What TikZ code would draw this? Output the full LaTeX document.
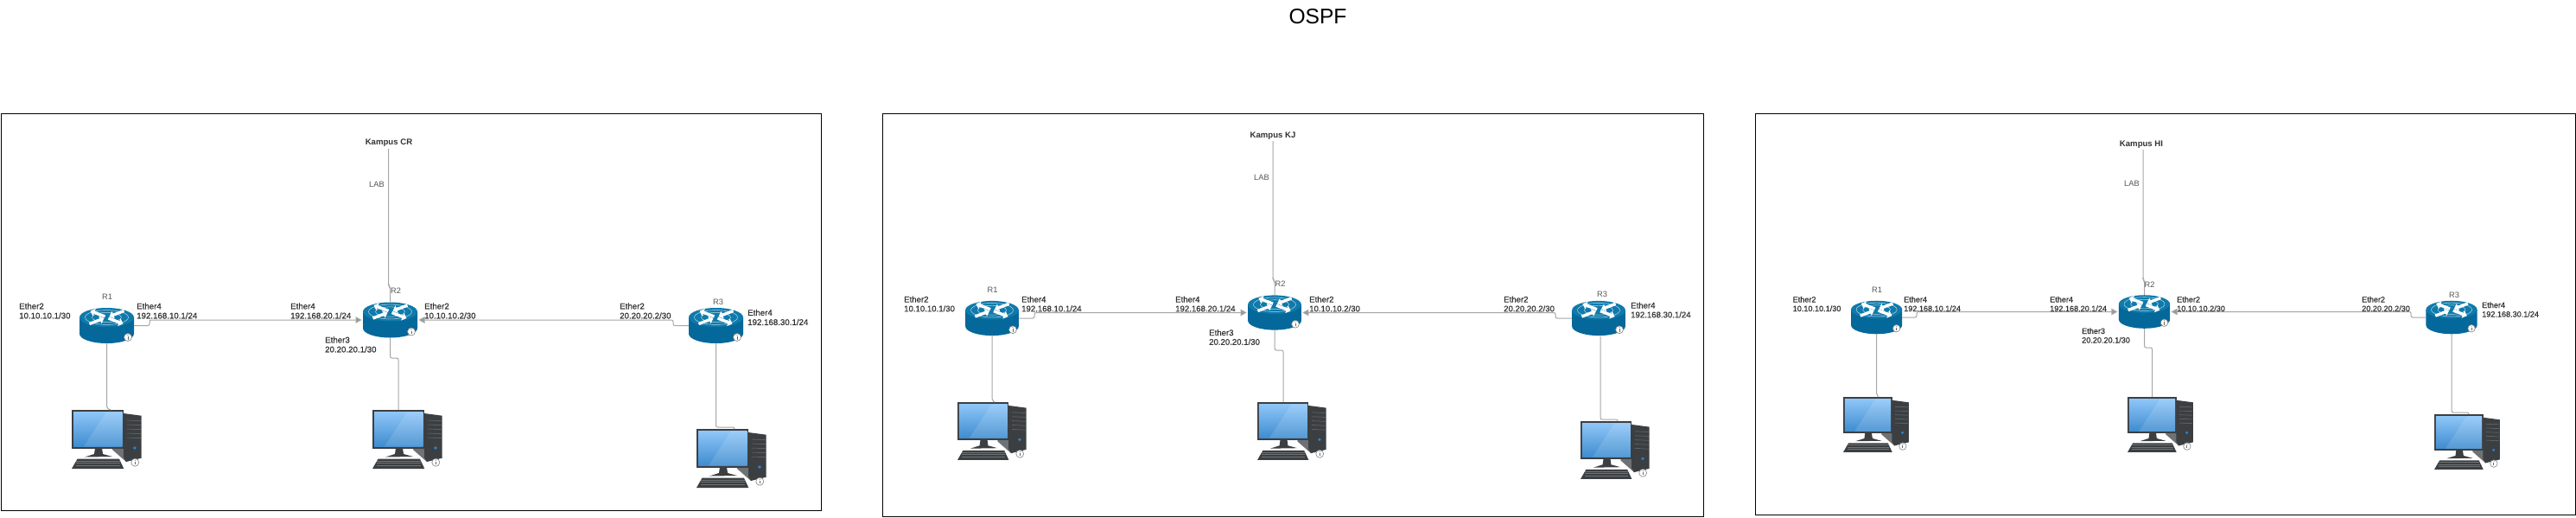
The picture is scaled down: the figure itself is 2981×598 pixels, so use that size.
\documentclass[tikz,border=0pt]{standalone}
\usepackage{fontspec}
\setmainfont{Liberation Sans}
\newfontface\medfont{Liberation Sans}[FakeBold=0.6]
\usetikzlibrary{arrows.meta,calc}
\definecolor{linkgray}{HTML}{A6A6A6}
\definecolor{arrowgray}{HTML}{999999}
\definecolor{txtdark}{HTML}{333333}
\definecolor{txtgray}{HTML}{555555}
\definecolor{rbody}{HTML}{04689A}
\definecolor{rtop}{HTML}{0F7AAB}
\definecolor{pcdark}{HTML}{3C3F42}
\definecolor{pcmid}{HTML}{6E7275}
\definecolor{scrtop}{HTML}{8EC6F8}
\definecolor{scrbot}{HTML}{3F8CCF}
\tikzset{
  panelbox/.style={draw=black,line width=1.4pt,fill=white},
  link/.style={draw=linkgray,line width=1pt,rounded corners=2pt},
  arrowlink/.style={link,-{Triangle[length=7pt,width=7.5pt,fill=arrowgray]},shorten >=1.5pt},
  devbox/.style={draw=none,inner sep=0pt,outer sep=0pt},
  etha/.style={text=txtdark,font=\fontsize{9.7}{11}\medfont,align=left,anchor=west,inner sep=0pt},
  ethb/.style={text=txtdark,font=\fontsize{9.6}{10.7}\medfont,align=left,anchor=west,inner sep=0pt},
  ethc/.style={text=txtdark,font=\fontsize{9.1}{10.5}\medfont,align=left,anchor=west,inner sep=0pt},
  rname/.style={text=txtgray,font=\fontsize{9.3}{11}\selectfont,inner sep=0pt},
  campus/.style={text=txtdark,font=\fontsize{9.6}{11}\selectfont\bfseries,inner sep=1.5pt},
  titletext/.style={text=black,font=\fontsize{24.6}{30}\selectfont,inner sep=0pt},
}
% info badge
\newcommand\infomark[2]{%
  \fill[white] (#1,#2) circle (4.5);
  \draw[gray,line width=0.6pt] (#1,#2) circle (4.5);
  \draw[gray!80!black,line width=0.9pt] (#1,#2-1) -- (#1,#2+2.5);
  \fill[gray!80!black] (#1,#2-2.6) circle (0.6);
}
% router: name, centre x, centre y, scale
\newcommand\routerat[4]{%
  \begin{scope}[shift={(#2,#3)},scale=#4]
    \fill[rbody] (-31.5,-9.5) -- (-31.5,9.5) arc[x radius=31.5,y radius=11,start angle=180,delta angle=-180] -- (31.5,-9.5) -- cycle;
    \fill[rtop] (0,-9.5) ellipse[x radius=31.5,y radius=11];
    \draw[white,line width=0.5pt,opacity=.7] (0,-9.5) ellipse[x radius=25,y radius=8.4];
    \draw[white,line width=0.5pt,opacity=.7] (0,-9.5) ellipse[x radius=17,y radius=5.6];
    \draw[white,line width=3.4pt,-{Triangle[length=5pt,width=9pt]}] (-2,-10.5) -- (-19,-17);
    \draw[white,line width=3.4pt,-{Triangle[length=5pt,width=9pt]}] (2,-8.5) -- (19,-2);
    \draw[white,line width=3.4pt,-{Triangle[length=5pt,width=9pt]}] (20,-17) -- (3,-10.5);
    \draw[white,line width=3.4pt,-{Triangle[length=5pt,width=9pt]}] (-20,-2) -- (-3,-8.5);
    \infomark{24.5}{13.5}
  \end{scope}
  \pgfmathsetlengthmacro{\devw}{63*#4}\pgfmathsetlengthmacro{\devh}{41.5*#4}
  \node[devbox,minimum width=\devw,minimum height=\devh] (#1) at (#2,#3) {};
}
% pc: name, left x, top y, scale
\newcommand\pcat[4]{%
  \begin{scope}[shift={(#2,#3)},scale=#4]
    \fill[pcmid] (47,46) -- (63,60) -- (63,6) -- (58,4) -- cycle;
    \fill[pcdark] (60,4) -- (80.7,6.7) -- (80.7,55.7) -- (63,60) -- (60,55) -- cycle;
    \foreach \yy in {12,17,22,27,32} {\draw[pcmid,line width=0.5pt] (64,\yy) -- (80,\yy+0.6);}
    \fill[blue!45!cyan!70!gray] (73,44) circle (1.8);
    \fill[pcdark] (27,44) -- (35,44) -- (36,51) -- (47,54) -- (15,54.5) -- (26,51) -- cycle;
    \fill[pcdark] (0,0) rectangle (60.3,44.7);
    \shade[top color=scrtop,bottom color=scrbot] (2,2.3) rectangle (58.7,42.3);
    \fill[white,opacity=.12] (58.7,2.3) -- (40,2.3) -- (14,42.3) -- (58.7,42.3) -- cycle;
    \fill[pcdark] (6.5,56.7) -- (55,56.7) -- (60.3,68) -- (0,68) -- cycle;
    \foreach \yy in {59,61.5,64} {\draw[pcmid,line width=0.4pt] (5,\yy) -- (56,\yy);}
    \infomark{73.3}{60.7}
  \end{scope}
  \pgfmathsetlengthmacro{\devw}{81*#4}\pgfmathsetlengthmacro{\devh}{69*#4}
  \node[devbox,anchor=north west,minimum width=\devw,minimum height=\devh] (#1) at (#2,#3) {};
}
\begin{document}
\begin{tikzpicture}[x=1pt,y=-1pt]
\useasboundingbox (0,0) rectangle (2981,598);
\fill[white] (0,0) rectangle (2981,598);
\node[titletext] (title) at (1525,19) {OSPF};
% ---------- panel 1
\node[panelbox,draw,minimum width=949pt,minimum height=459pt,inner sep=0pt,anchor=north west] (frameA) at (1,131) {};
\coordinate (aPcOne) at (128,474);
\coordinate (aPcTwo) at (461,474);
\coordinate (aPcThree) at (850,496);
\coordinate (aKin) at (449.5,172);
\node[campus] (aK) at (450,165) {Kampus CR};
\node[rname] (aLab) at (436,213) {LAB};
\routerat{aR1}{123.5}{376.5}{1}
\routerat{aR2}{451.5}{370}{1}
\routerat{aR3}{828.5}{376.5}{1}
\pcat{aP1}{83}{474}{1}
\pcat{aP2}{431}{474}{1}
\pcat{aP3}{806}{496}{1}
\draw[link] (aKin) -- (449.5,330) -- (451.5,332) -- (aR2.north);
\draw[arrowlink] (aR1.east) -- (173,376.5) -- (173,370) -- (aR2.west);
\draw[arrowlink] (aR3.west) -- (779,376.5) -- (779,370) -- (aR2.east);
\draw[link] (aR1.south) -- (123.5,472) -- (aPcOne);
\draw[link] (aR2.south) -- (451.5,414) -- (461,414) -- (aPcTwo);
\draw[link] (aR3.south) -- (828.5,494) -- (850,494) -- (aPcThree);
\node[rname] (aN1) at (124,343) {R1};
\node[rname] (aN2) at (458,336) {R2};
\node[rname] (aN3) at (831,349) {R3};
\node[etha] (aE1) at (22,359.5) {Ether2\\10.10.10.1/30};
\node[etha] (aE2) at (158,359.5) {Ether4\\192.168.10.1/24};
\node[etha] (aE3) at (336,359.5) {Ether4\\192.168.20.1/24};
\node[etha] (aE4) at (376,398.5) {Ether3\\20.20.20.1/30};
\node[etha] (aE5) at (491,359.5) {Ether2\\10.10.10.2/30};
\node[etha] (aE6) at (717,359.5) {Ether2\\20.20.20.2/30};
\node[etha] (aE7) at (865,367) {Ether4\\192.168.30.1/24};
% ---------- panel 2
\node[panelbox,draw,minimum width=950pt,minimum height=466pt,inner sep=0pt,anchor=north west] (frameB) at (1021,130.5) {};
\coordinate (bPcOne) at (1151,465);
\coordinate (bPcTwo) at (1485,465);
\coordinate (bPcThree) at (1872,487);
\coordinate (bROut) at (1852,389);
\node[campus] (bK) at (1473,157) {Kampus KJ};
\node[rname] (bLab) at (1460,205) {LAB};
\routerat{bR1}{1148}{368}{.98}
\routerat{bR2}{1475}{361.5}{.98}
\routerat{bR3}{1850}{368}{.98}
\pcat{bP1}{1108}{465}{.985}
\pcat{bP2}{1455}{465}{.985}
\pcat{bP3}{1829}{487}{.985}
\draw[link] (bK.south) -- (1473,323) -- (1475,325) -- (bR2.north);
\draw[arrowlink] (bR1.east) -- (1197,368) -- (1197,361.5) -- (bR2.west);
\draw[arrowlink] (bR3.west) -- (1800,368) -- (1800,361.5) -- (bR2.east);
\draw[link] (bR1.south) -- (1148,463) -- (bPcOne);
\draw[link] (bR2.south) -- (1475,405) -- (1485,405) -- (bPcTwo);
\draw[link] (bROut) -- (1852,485) -- (1872,485) -- (bPcThree);
\node[rname] (bN1) at (1148.5,335) {R1};
\node[rname] (bN2) at (1481.5,328) {R2};
\node[rname] (bN3) at (1854,340) {R3};
\node[ethb] (bE1) at (1046,351.5) {Ether2\\10.10.10.1/30};
\node[ethb] (bE2) at (1182,351.5) {Ether4\\192.168.10.1/24};
\node[ethb] (bE3) at (1360,351.5) {Ether4\\192.168.20.1/24};
\node[ethb] (bE4) at (1399,390) {Ether3\\20.20.20.1/30};
\node[ethb] (bE5) at (1515,351.5) {Ether2\\10.10.10.2/30};
\node[ethb] (bE6) at (1740,351.5) {Ether2\\20.20.20.2/30};
\node[ethb] (bE7) at (1887,358.5) {Ether4\\192.168.30.1/24};
% ---------- panel 3
\node[panelbox,draw,minimum width=949pt,minimum height=464.5pt,inner sep=0pt,anchor=north west] (frameC) at (2031,130.5) {};
\coordinate (cPcOne) at (2174,459);
\coordinate (cPcTwo) at (2490.5,459);
\coordinate (cPcThree) at (2857,479);
\coordinate (cKin) at (2480,173);
\node[campus] (cK) at (2478,167) {Kampus HI};
\node[rname] (cLab) at (2467,212) {LAB};
\routerat{cR1}{2171.6}{367}{.94}
\routerat{cR2}{2481.5}{360.5}{.94}
\routerat{cR3}{2837}{367}{.94}
\pcat{cP1}{2133}{459}{.94}
\pcat{cP2}{2462}{459}{.94}
\pcat{cP3}{2817}{479}{.94}
\draw[link] (cKin) -- (2480,323) -- (2481.5,325) -- (cR2.north);
\draw[arrowlink] (cR1.east) -- (2218,367) -- (2218,360.5) -- (cR2.west);
\draw[arrowlink] (cR3.west) -- (2790,367) -- (2790,360.5) -- (cR2.east);
\draw[link] (cR1.south) -- (2171.6,457) -- (cPcOne);
\draw[link] (cR2.south) -- (2481.5,402) -- (2490.5,402) -- (cPcTwo);
\draw[link] (cR3.south) -- (2837,477) -- (2857,477) -- (cPcThree);
\node[rname] (cN1) at (2172,335) {R1};
\node[rname] (cN2) at (2487.5,329) {R2};
\node[rname] (cN3) at (2840,341) {R3};
\node[ethc] (cE1) at (2074.5,351.5) {Ether2\\10.10.10.1/30};
\node[ethc] (cE2) at (2203,351.5) {Ether4\\192.168.10.1/24};
\node[ethc] (cE3) at (2372,351.5) {Ether4\\192.168.20.1/24};
\node[ethc] (cE4) at (2409,388) {Ether3\\20.20.20.1/30};
\node[ethc] (cE5) at (2519,351.5) {Ether2\\10.10.10.2/30};
\node[ethc] (cE6) at (2733,351.5) {Ether2\\20.20.20.2/30};
\node[ethc] (cE7) at (2872,358) {Ether4\\192.168.30.1/24};
\end{tikzpicture}
\end{document}
